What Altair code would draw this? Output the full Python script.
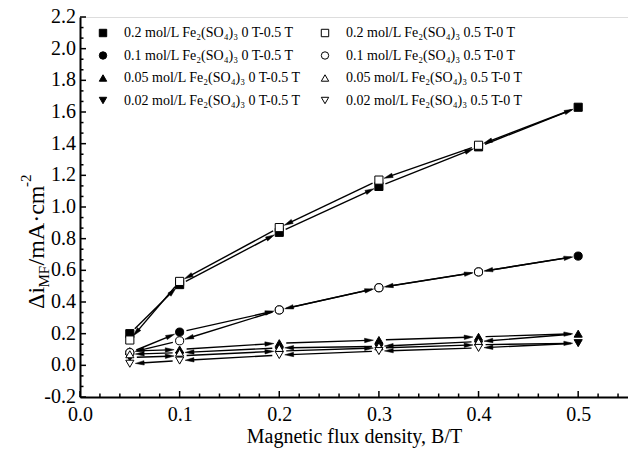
import math
import altair as alt
import pandas as pd

# ---------------- data ----------------
B = [0.05, 0.1, 0.2, 0.3, 0.4, 0.5]

fwd_02 = [0.20, 0.51, 0.84, 1.13, 1.38, 1.63]
rev_02 = [0.16, 0.53, 0.87, 1.17, 1.39, 1.63]
fwd_01 = [0.08, 0.21, 0.35, 0.49, 0.59, 0.69]
rev_01 = [0.08, 0.155, 0.35, 0.49, 0.59, 0.69]
fwd_005 = [0.09, 0.10, 0.14, 0.16, 0.18, 0.20]
rev_005 = [0.07, 0.08, 0.11, 0.12, 0.15, 0.20]
fwd_002 = [0.05, 0.06, 0.09, 0.11, 0.13, 0.14]
rev_002 = [0.01, 0.03, 0.065, 0.09, 0.11, 0.14]

labels = [
    "0.2 mol/L Fe₂(SO₄)₃ 0 T-0.5 T",
    "0.2 mol/L Fe₂(SO₄)₃ 0.5 T-0 T",
    "0.1 mol/L Fe₂(SO₄)₃ 0 T-0.5 T",
    "0.1 mol/L Fe₂(SO₄)₃ 0.5 T-0 T",
    "0.05 mol/L Fe₂(SO₄)₃ 0 T-0.5 T",
    "0.05 mol/L Fe₂(SO₄)₃ 0.5 T-0 T",
    "0.02 mol/L Fe₂(SO₄)₃ 0 T-0.5 T",
    "0.02 mol/L Fe₂(SO₄)₃ 0.5 T-0 T",
]
values = [fwd_02, rev_02, fwd_01, rev_01, fwd_005, rev_005, fwd_002, rev_002]
shapes = ["square", "square", "circle", "circle",
          "triangle-up", "triangle-up", "triangle-down", "triangle-down"]
fills = ["black", "white"] * 4
forward = [True, False] * 4

x_major = [0.0, 0.1, 0.2, 0.3, 0.4, 0.5]
y_major = [-0.2, 0.0, 0.2, 0.4, 0.6, 0.8, 1.0, 1.2, 1.4, 1.6, 1.8, 2.0, 2.2]
y_labels = ["-0.2", "0.0", "0.2", "0.4", "0.6", "0.8", "1.0", "1.2",
            "1.4", "1.6", "1.8", "2.0", "2.2"]
x_minor = [round(i * 0.02, 2) for i in range(28) if (i % 5) != 0]
y_minor = [round(-0.2 + i * 0.2 / 3, 4) for i in range(37) if (i % 3) != 0]

# ---------------- geometry ----------------
W, H = 548, 380
XD = [0.0, 0.55]
YD = [-0.2, 2.2]
sx = W / (XD[1] - XD[0])
sy = H / (YD[1] - YD[0])
FONT = "Liberation Serif"

marker_rows = []
seg_rows = []
head_rows = []
for lab, vals, fw in zip(labels, values, forward):
    pts = list(zip(B, vals))
    for b, v in pts:
        if fw or b < 0.5:
            marker_rows.append({"B": b, "v": v, "series": lab, "fw": 0 if fw else 1})
    order = pts if fw else pts[::-1]
    for (xa, ya), (xb, yb) in zip(order[:-1], order[1:]):
        dx = (xb - xa) * sx
        dy = -(yb - ya) * sy
        L = math.hypot(dx, dy)
        ux, uy = dx / L, dy / L
        g1, g2, g3 = 7.0, 5.5, 11.0
        x1 = xa + ux * g1 / sx
        y1 = ya - uy * g1 / sy
        xt = xb - ux * g2 / sx
        yt = yb + uy * g2 / sy
        x2 = xb - ux * g3 / sx
        y2 = yb + uy * g3 / sy
        seg_rows.append({"x": x1, "y": y1, "x2": x2, "y2": y2})
        ang = math.degrees(math.atan2(dy, dx)) % 360
        head_rows.append({"x": xt, "y": yt, "ang": ang})

markers = pd.DataFrame(marker_rows).sort_values("fw", kind="stable")
segs = pd.DataFrame(seg_rows)
heads = pd.DataFrame(head_rows)

xs = alt.Scale(domain=XD, nice=False, zero=False)
ys = alt.Scale(domain=YD, nice=False, zero=False)

x_axis = alt.Axis(values=x_major, format=".1f", ticks=False, grid=False,
                  labelFont=FONT, labelFontSize=20, labelColor="black",
                  labelPadding=7, domainColor="black", domainWidth=2,
                  title="Magnetic flux density, B/T", titleFont=FONT,
                  titleFontSize=20, titleFontWeight="normal", titleColor="black",
                  titlePadding=2, labelFlush=False, labelOverlap=False)
y_axis = alt.Axis(ticks=False, grid=False, labels=False,
                  domainColor="black", domainWidth=2, title=None)

base_x = alt.X("x:Q", scale=xs, axis=x_axis)
base_y = alt.Y("y:Q", scale=ys, axis=y_axis)

segs_layer = alt.Chart(segs).mark_rule(color="black", strokeWidth=1.4).encode(
    x=base_x, y=base_y, x2="x2:Q", y2="y2:Q")

arrow_path = "M0,0L-2,-0.5L-2,0.5Z"
heads_layer = alt.Chart(heads).mark_point(
    shape=arrow_path, filled=True, fill="black", stroke="black", strokeWidth=0.5,
    opacity=1, size=78
).encode(x="x:Q", y="y:Q", angle=alt.Angle("ang:Q", scale=None))

legend = alt.Legend(title=None, orient="none", legendX=16, legendY=9,
                    columns=2, direction="horizontal", columnPadding=16, rowPadding=8.5,
                    labelFont=FONT, labelFontSize=14, labelColor="black",
                    labelOffset=14, symbolSize=55, symbolStrokeWidth=1,
                    labelLimit=400, padding=0)

markers_layer = alt.Chart(markers).mark_point(
    filled=True, opacity=1, strokeWidth=1, size=66
).encode(
    x=alt.X("B:Q"), y=alt.Y("v:Q"),
    shape=alt.Shape("series:N", scale=alt.Scale(domain=labels, range=shapes), legend=legend),
    fill=alt.Fill("series:N", scale=alt.Scale(domain=labels, range=fills), legend=legend),
    stroke=alt.Stroke("series:N", scale=alt.Scale(domain=labels, range=["black"] * 8), legend=legend),
    order=alt.Order("fw:Q"),
)

# y tick labels (every major tick)
ylab_layer = alt.Chart(pd.DataFrame({"y": y_major, "lab": y_labels})).mark_text(
    align="right", baseline="middle", font=FONT, fontSize=20, color="black", dx=-4
).encode(y="y:Q", x=alt.value(0), text="lab:N")

# inward ticks
def xticks(vals, length):
    return alt.Chart(pd.DataFrame({"x": vals})).mark_rule(color="black", strokeWidth=1.5).encode(
        x="x:Q", y=alt.value(H), y2=alt.value(H - length))

def yticks(vals, length):
    return alt.Chart(pd.DataFrame({"y": vals})).mark_rule(color="black", strokeWidth=1.5).encode(
        y="y:Q", x=alt.value(0), x2=alt.value(length))

# y title with sub/superscripts
def ytext(txt, xpix, ypix, size):
    return alt.Chart(pd.DataFrame({"t": [txt]})).mark_text(
        angle=270, align="left", baseline="alphabetic", font=FONT,
        fontSize=size, color="black"
    ).encode(text="t:N", x=alt.value(xpix), y=alt.value(ypix))

y0 = 292
title_layers = [
    ytext("Δi", -36, y0, 24),
    ytext("MF", -31, y0 - 21.5, 15),
    ytext("/mA·cm", -36, y0 - 43.5, 24),
    ytext("-2", -49, y0 - 122, 15),
]

chart = alt.layer(
    segs_layer, heads_layer, markers_layer, ylab_layer,
    xticks(x_major, 6), xticks(x_minor, 3.5),
    yticks(y_major, 6), yticks(y_minor, 3.5),
    *title_layers,
).properties(
    width=W, height=H,
    padding={"left": 80, "top": 17, "right": 0, "bottom": 53},
    autosize=alt.AutoSizeParams(type="none"),
).configure_view(stroke="black", strokeWidth=1.5).configure_axis(
    labelOverlap=False
).configure(background="white")

chart.save("out.html", embed_options={"renderer": "svg", "actions": False})
